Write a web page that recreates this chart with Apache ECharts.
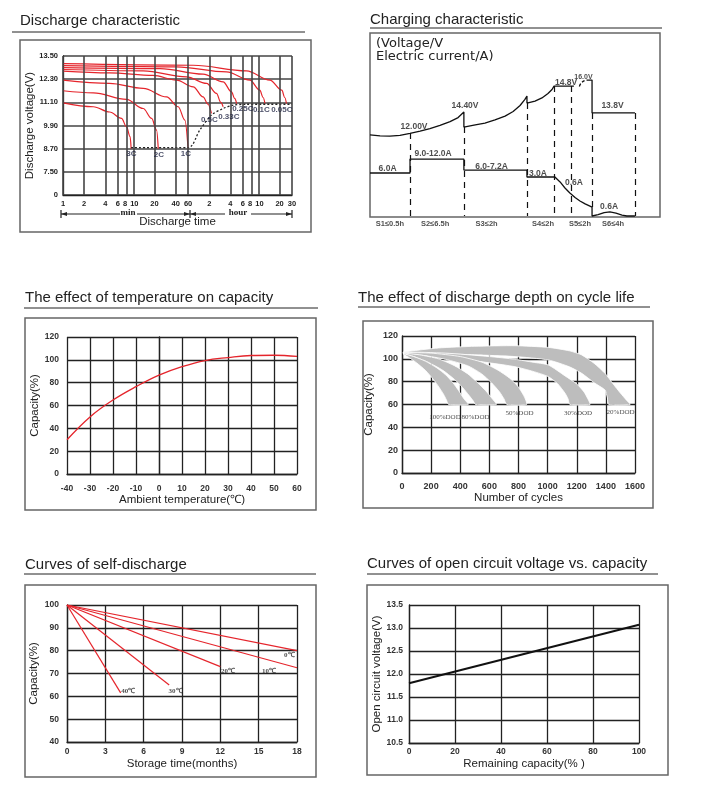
<!DOCTYPE html>
<html><head><meta charset="utf-8">
<script src="https://cdn.jsdelivr.net/npm/echarts@6/dist/echarts.min.js"></script>
<style>html,body{margin:0;padding:0;background:#fff}#c{width:704px;height:798px}</style>
</head><body><div id="c"></div>
<script>
// ================= DATA =================
// --- Discharge characteristic (x: minutes, log; y: volts) ---
const dcYLabels = ['0','7.50','8.70','9.90','11.10','12.30','13.50'];
const dcXTicks  = [1,2,4,6,8,10,20,40,60,120,240,360,480,600,1200,1800];
const dcXLabels = ['1','2','4','6','8','10','20','40','60','2','4','6','8','10','20','30'];
const dcRates   = ['3C','2C','1C','0.5C','0.33C','0.25C','0.1C','0.05C'];
const dc3C   = [[1,11.07],[2.7,10.87],[4.6,10.6],[6.8,10.27],[8,9.83],[9,9.32],[9.3,8.7]];
const dc2C   = [[1,11.7],[2.7,11.59],[8,11.25],[13.8,10.78],[18.2,10.27],[21.4,9.66],[22.6,8.7]];
const dc1C   = [[1,12.25],[4.6,12.08],[13.8,11.82],[29.7,11.38],[43.4,10.87],[54,10.18],[60,8.7]];
const dc05C  = [[1,12.72],[4.6,12.63],[19,12.5],[41,12.25],[71,11.9],[98,11.38],[115,11.0],[129,10.53]];
const dc033C = [[1,12.8],[13.8,12.73],[57,12.42],[110,12.08],[152,11.56],[175,11.1],[189,10.87]];
const dc025C = [[1,12.9],[24,12.85],[98,12.56],[189,12.16],[249,11.64],[275,11.3],[294,11.04]];
const dc01C  = [[1,13.0],[41,12.94],[211,12.68],[453,12.25],[627,11.73],[700,11.35],[742,11.04]];
const dc005C = [[1,13.1],[71,13.02],[406,12.73],[872,12.25],[1290,11.73],[1420,11.35],[1500,11.04]];
const dcEndDots = [[9.3,8.75],[60,8.75],[88,9.66],[129,10.44],[189,10.78],[262,10.95],[400,11.0],[1800,11.0]];
const dcLabelPos = [[9.4,8.42],[23.1,8.37],[55.9,8.42],[120.5,10.18],[228,10.34],[360,10.75],[660,10.7],[1291,10.7]];

// --- Charging characteristic (schematic units 0..100) ---
const chgVoltA = [[0,44.3],[3.5,43.8],[6.9,43.7],[10.4,44.1],[13.9,45.1],[17.4,46.4],[20.8,47.8],[24.3,49.5],[27.8,51.6],[30.6,53.8],[32.6,56.8],
  [32.6,48.6],[36.1,49.7],[39.9,50.8],[43.4,52.5],[46.9,54.6],[49.7,57.1],[52.1,60.4],[53.8,63.7],[54.5,65.6],
  [54.5,61.7],[57.3,62.8],[59.7,64.5],[61.8,66.9],[63.2,69.1],[63.9,71.0],[70.8,71.0]];
const chgVoltArc = [[72.7,70.8],[73.4,72.8],[74.6,74.0],[75.7,74.3]];
const chgVoltB = [[75.7,74.3],[77.1,74.3],[77.1,56.3],[92,56.3]];
const chgCurrent = [[0,23.5],[13.9,23.5],[13.9,31.1],[32.6,31.1],[32.6,25.1],[54.5,25.1],[54.5,21.3],[64.2,21.3],
  [66,18.6],[67.7,15.3],[69.4,12.6],[71.2,10.1],[72.9,8.2],[74.7,6.6],[77.1,4.9],[77.1,0],
  [79.2,0.8],[81.3,1.9],[83.3,2.2],[85.4,1.6],[87.5,0.5],[89.2,0],[92,0]];
const chgStageX   = [13.9,32.6,54.5,63.9,69.8,77.1,92.0];
const chgStageTop = [45.4,48.6,61.7,71.0,71.0,56.3,56.3];
const chgStageBot = [0,0,0,0,0,4.9,0];
const chgTexts = ['12.00V','14.40V','14.8V','13.8V','6.0A','9.0-12.0A','6.0-7.2A','3.0A','0.6A','0.6A'];
const chgTextPos = [[15.3,48.6],[33.0,60.1],[68.1,72.7],[84.2,60.1],[6.1,25.7],[21.9,33.9],[42.2,26.8],[58.3,23.0],[70.8,18.0],[83.0,4.9]];
const chgSmallText = ['16.0V'];
const chgSmallPos = [[74.1,76.0]];
const chgStages = ['S1≤0.5h','S2≤6.5h','S3≤2h','S4≤2h','S5≤2h','S6≤4h'];
const chgStagePos = [[6.9,-4.4],[22.6,-4.4],[40.5,-4.4],[60.1,-4.4],[72.9,-4.4],[84.4,-4.4]];

// --- Temperature vs capacity ---
const tempC   = [-40,-30,-20,-10,0,10,20,30,40,50,60];
const tempCap = [30,50,64.8,76.5,86.6,94,99.4,102,103.8,104,103];

// --- Discharge depth vs cycle life (bands: [cycles, capacity]) ---
const dodNames = ['100%DOD','80%DOD','50%DOD','30%DOD','20%DOD'];
const dod100U = [[10,104.5],[80,102],[160,98],[240,92],[300,86],[350,79],[390,72],[425,65],[455,60]];
const dod100L = [[10,104],[50,101],[100,96.5],[160,90],[215,82],[255,75],[285,69],[305,64],[320,60]];
const dod80U  = [[10,105],[120,103.5],[250,100],[360,94],[450,87],[520,79],[575,72],[620,65],[648,60]];
const dod80L  = [[10,104.5],[80,102],[180,97],[280,90],[360,82],[415,75],[460,68],[490,63],[505,60]];
const dod50U  = [[10,105.5],[200,105],[400,102],[550,97],[660,90],[740,83],[795,76],[835,68],[856,60]];
const dod50L  = [[10,104.5],[150,103],[300,99.5],[450,94],[545,87],[615,79],[670,71],[700,65],[720,60]];
const dod30U  = [[10,106],[300,105],[600,102],[776,99.6],[900,97],[1005,94.6],[1120,85],[1200,78],[1250,71],[1280,64],[1291,60]];
const dod30L  = [[10,105],[300,101.5],[600,96.5],[776,93.1],[900,89],[1005,84.4],[1070,78],[1120,69.8],[1140,65],[1153,60]];
const dod20U  = [[10,106],[250,109.5],[500,111],[776,111.5],[1005,110],[1150,107],[1234,103.4],[1320,96],[1394,87.3],[1450,78],[1500,70],[1540,64],[1566,60]];
const dod20L  = [[10,105],[250,104.5],[500,103.5],[776,102],[1005,99],[1150,93],[1234,87.3],[1320,79],[1394,72.7],[1410,66],[1420,60]];
const dodLabelPos = [[295,49],[505,49],[807,52.6],[1209,52.6],[1501,53.4]];

// --- Self-discharge (months, %) ---
const sdNames = ['0℃','10℃','20℃','30℃','40℃'];
const sd0  = [[0,100],[18,80]];
const sd10 = [[0,100],[18,72.5]];
const sd20 = [[0,100],[12,73]];
const sd30 = [[0,100],[8,65]];
const sd40 = [[0,100],[4.2,61.5]];
const sdLabelPos = [[17.4,78.1],[15.8,71.1],[12.6,71.1],[8.5,62.3],[4.8,62.3]];

// --- Open circuit voltage vs capacity ---
const ocvCap = [0,100];
const ocvVolt = [11.8,13.07];

// ================= BUILD =================
const FF = '"Liberation Sans", Arial, Helvetica, sans-serif';
const RED = '#e5252c';
const GRIDC = '#222';
const vIdx = v => (v - 6.3) / 1.2;

function axisBase(gi, extra) {
  const a = {
    gridIndex: gi, type: 'value',
    axisTick: {show: false},
    axisLine: {show: true, lineStyle: {color: GRIDC, width: 1.3}},
    splitLine: {show: true, lineStyle: {color: GRIDC, width: 1.3}},
    axisLabel: {color: '#333', fontSize: 8.5, fontWeight: 'bold', fontFamily: FF, margin: 8, formatter: v => String(v)},
    nameLocation: 'middle',
    nameTextStyle: {color: '#222', fontSize: 11.5, fontFamily: FF}
  };
  for (const k in extra) {
    if (a[k] && typeof a[k] === 'object' && typeof extra[k] === 'object' && !Array.isArray(extra[k])) a[k] = Object.assign({}, a[k], extra[k]);
    else a[k] = extra[k];
  }
  return a;
}
function labelSeries(xi, yi, pts, texts, style) {
  return {
    type: 'scatter', xAxisIndex: xi, yAxisIndex: yi, symbolSize: 1, silent: true, clip: false, z: 6,
    itemStyle: {color: 'rgba(0,0,0,0)'},
    data: pts.map((p, i) => ({value: p, label: Object.assign({show: true, position: 'inside', formatter: texts[i], align: 'center', verticalAlign: 'middle'}, style)}))
  };
}

const grids = [
  {left: 63, top: 56, width: 229, height: 139},
  {left: 370, top: 33, width: 288, height: 183},
  {left: 67, top: 337, width: 230, height: 137},
  {left: 402, top: 336, width: 233, height: 137},
  {left: 67, top: 605, width: 230, height: 137},
  {left: 409, top: 605, width: 230, height: 138}
];

const xAxes = [
  axisBase(0, {type: 'log', logBase: 10, min: 1, max: 1800,
    splitLine: {show: false},
    axisLabel: {customValues: dcXTicks, fontSize: 7.5, margin: 5, color: '#222',
      rich: {l: {padding: [0, 3, 0, 0]}, r: {padding: [0, 0, 0, 2]}},
      formatter: v => {
        for (let i = 0; i < dcXTicks.length; i++) if (Math.abs(dcXTicks[i] - v) / dcXTicks[i] < 1e-4) {
          const t = dcXLabels[i];
          if (t === '8') return '{l|8}';
          if (t === '10') return '{r|10}';
          return t;
        }
        return '';
      }},
    name: 'Discharge time', nameGap: 21}),
  {gridIndex: 1, type: 'value', min: 0, max: 100, show: false},
  axisBase(2, {min: -40, max: 60, interval: 10, axisLabel: {margin: 10}, name: 'Ambient temperature(℃)', nameGap: 19}),
  axisBase(3, {min: 0, max: 1600, interval: 200, axisLabel: {margin: 9, fontSize: 9}, name: 'Number of cycles', nameGap: 19}),
  axisBase(4, {min: 0, max: 18, interval: 3, axisLabel: {margin: 5}, name: 'Storage time(months)', nameGap: 16}),
  axisBase(5, {min: 0, max: 100, interval: 20, axisLabel: {margin: 4}, name: 'Remaining capacity(% )', nameGap: 15})
];
const yAxes = [
  axisBase(0, {min: 0, max: 6, interval: 1,
    splitLine: {lineStyle: {color: '#444', width: 1.6}},
    axisLabel: {formatter: v => dcYLabels[Math.round(v)], fontSize: 7.5, margin: 5, color: '#222'},
    name: 'Discharge voltage(V)', nameGap: 26}),
  {gridIndex: 1, type: 'value', min: 0, max: 100, show: false},
  axisBase(2, {min: 0, max: 120, interval: 20, axisLabel: {margin: 8}, name: 'Capacity(%)', nameGap: 23}),
  axisBase(3, {min: 0, max: 120, interval: 20, axisLabel: {margin: 4, fontSize: 9}, name: 'Capacity(%)', nameGap: 27}),
  axisBase(4, {min: 40, max: 100, interval: 10, axisLabel: {margin: 8}, name: 'Capacity(%)', nameGap: 27}),
  axisBase(5, {min: 10.5, max: 13.5, interval: 0.5, axisLabel: {margin: 6, formatter: v => v.toFixed(1)}, name: 'Open circuit voltage(V)', nameGap: 25})
];

const series = [];
// discharge vertical grid lines
series.push({type: 'line', xAxisIndex: 0, yAxisIndex: 0, data: [], silent: true,
  markLine: {silent: true, symbol: ['none', 'none'], label: {show: false}, animation: false,
    lineStyle: {color: '#444', width: 1.6, type: 'solid'},
    data: dcXTicks.map(v => ({xAxis: v}))}});
const dcCurves = [dc3C, dc2C, dc1C, dc05C, dc033C, dc025C, dc01C, dc005C];
dcCurves.forEach((c, i) => series.push({
  type: 'line', name: dcRates[i], xAxisIndex: 0, yAxisIndex: 0, showSymbol: false, smooth: 0.35, smoothMonotone: 'x',
  lineStyle: {color: RED, width: 1.2}, z: 3,
  data: c.map(p => [p[0], vIdx(p[1])])
}));
series.push({type: 'line', xAxisIndex: 0, yAxisIndex: 0, showSymbol: false, smooth: 0.3, z: 4,
  lineStyle: {color: '#222', width: 1.3, type: [2, 2]}, data: dcEndDots.map(p => [p[0], vIdx(p[1])])});
series.push(labelSeries(0, 0, dcLabelPos.map(p => [p[0], vIdx(p[1])]), dcRates,
  {fontSize: 8, fontWeight: 'bold', color: '#1c2140', fontFamily: FF}));

// charging
const chgLine = {color: '#111', width: 1.3};
series.push({type: 'line', xAxisIndex: 1, yAxisIndex: 1, showSymbol: false, clip: false, lineStyle: chgLine, data: chgVoltA});
series.push({type: 'line', xAxisIndex: 1, yAxisIndex: 1, showSymbol: false, clip: false, smooth: 0.4, lineStyle: {color: '#111', width: 1.3, type: [3, 2]}, data: chgVoltArc});
series.push({type: 'line', xAxisIndex: 1, yAxisIndex: 1, showSymbol: false, clip: false, lineStyle: chgLine, data: chgVoltB});
series.push({type: 'line', xAxisIndex: 1, yAxisIndex: 1, showSymbol: false, clip: false, lineStyle: chgLine, data: chgCurrent,
  markLine: {silent: true, symbol: ['none', 'none'], label: {show: false}, animation: false,
    lineStyle: {color: '#111', width: 1.2, type: [6, 5]},
    data: chgStageX.map((x, i) => [{coord: [x, chgStageTop[i]]}, {coord: [x, chgStageBot[i]]}])}});
series.push(labelSeries(1, 1, chgTextPos, chgTexts, {fontSize: 8.5, fontWeight: 'bold', color: '#222', fontFamily: FF}));
series.push(labelSeries(1, 1, chgSmallPos, chgSmallText, {fontSize: 7, fontWeight: 'bold', color: '#222', fontFamily: FF}));
series.push(labelSeries(1, 1, chgStagePos, chgStages, {fontSize: 7.5, fontWeight: 'bold', color: '#222', fontFamily: FF}));

// temperature
series.push({type: 'line', xAxisIndex: 2, yAxisIndex: 2, showSymbol: false, smooth: 0.4,
  lineStyle: {color: RED, width: 1.3}, data: tempC.map((t, i) => [t, tempCap[i]])});

// DOD bands
const dodBands = [[dod20U, dod20L], [dod30U, dod30L], [dod50U, dod50L], [dod80U, dod80L], [dod100U, dod100L]];
series.push({type: 'custom', xAxisIndex: 3, yAxisIndex: 3, silent: true, z: 3,
  data: dodBands.map((b, i) => [i]),
  renderItem: (params, api) => {
    const b = dodBands[params.dataIndex];
    const pts = b[0].concat(b[1].slice().reverse()).map(p => api.coord(p));
    return {type: 'polygon', shape: {points: pts, smooth: 0.2}, style: {fill: '#bdbdbd', stroke: '#fff', lineWidth: 0.8}};
  }});
series.push(labelSeries(3, 3, dodLabelPos, dodNames, {fontSize: 7, color: '#222', fontFamily: '"Liberation Serif", serif'}));

// self-discharge
[sd0, sd10, sd20, sd30, sd40].forEach(d => series.push({type: 'line', xAxisIndex: 4, yAxisIndex: 4, showSymbol: false,
  lineStyle: {color: RED, width: 1.2}, data: d}));
series.push(labelSeries(4, 4, sdLabelPos, sdNames, {fontSize: 7, fontWeight: 'bold', color: '#222', fontFamily: '"Liberation Serif", serif'}));

// OCV
series.push({type: 'line', xAxisIndex: 5, yAxisIndex: 5, showSymbol: false,
  lineStyle: {color: '#111', width: 2}, data: ocvCap.map((c, i) => [c, ocvVolt[i]])});

// ---------- decorations ----------
const titleFont = '15px ' + FF;
function title(x, y, t) { return {type: 'text', x: x, y: y, z: 10, style: {text: t, font: titleFont, fill: '#222', verticalAlign: 'middle'}}; }
function hline(x1, x2, y, w, c) { return {type: 'line', z: 10, shape: {x1: x1, y1: y, x2: x2, y2: y}, style: {stroke: c || '#222', lineWidth: w || 1}}; }
function vline(x, y1, y2) { return {type: 'line', z: 10, shape: {x1: x, y1: y1, x2: x, y2: y2}, style: {stroke: '#222', lineWidth: 1.2}}; }
function box(x1, y1, x2, y2) { return {type: 'rect', z: 0, shape: {x: x1, y: y1, width: x2 - x1, height: y2 - y1}, style: {fill: 'none', stroke: '#666', lineWidth: 1.5}}; }
function arrow(x, dir) { return {type: 'polygon', z: 10, shape: {points: [[x, 214], [x - 6 * dir, 212], [x - 6 * dir, 216]]}, style: {fill: '#222'}}; }

const graphics = [
  title(20, 21, 'Discharge characteristic'), hline(12, 305, 32),
  box(20, 40, 311, 232),
  title(370, 19.5, 'Charging characteristic'), hline(370, 662, 28),
  box(370, 33, 660, 217),
  {type: 'text', x: 376, y: 44, z: 10, style: {text: '(Voltage/V', font: '13px "DejaVu Sans", sans-serif', fill: '#222', verticalAlign: 'middle'}},
  {type: 'text', x: 376, y: 57, z: 10, style: {text: 'Electric current/A)', font: '13px "DejaVu Sans", sans-serif', fill: '#222', verticalAlign: 'middle'}},
  title(25, 298, 'The effect of temperature on capacity'), hline(24, 318, 308),
  box(25, 318, 316, 510),
  title(358, 298, 'The effect of discharge depth on cycle life'), hline(358, 650, 307),
  box(363, 321, 653, 508),
  title(25, 565, 'Curves of self-discharge'), hline(24, 316, 574),
  box(25, 585, 316, 777),
  title(367, 564, 'Curves of open circuit voltage vs. capacity'), hline(367, 658, 574),
  box(367, 585, 668, 775),
  // min / hour span markers
  vline(61, 210, 218), vline(190, 210, 218), vline(292, 210, 218),
  hline(61, 120, 214, 1.2), hline(137, 190, 214, 1.2), hline(190, 225, 214, 1.2), hline(251, 292, 214, 1.2),
  arrow(61, -1), arrow(190, 1), arrow(190, -1), arrow(292, 1),
  {type: 'text', x: 128, y: 213, z: 10, style: {text: 'min', font: 'bold 9px "Liberation Serif", serif', fill: '#222', align: 'center', verticalAlign: 'middle'}},
  {type: 'text', x: 238, y: 213, z: 10, style: {text: 'hour', font: 'bold 9px "Liberation Serif", serif', fill: '#222', align: 'center', verticalAlign: 'middle'}}
];

const chart = echarts.init(document.getElementById('c'), null, {renderer: 'canvas', width: 704, height: 798});
chart.setOption({
  animation: false,
  backgroundColor: '#fff',
  textStyle: {fontFamily: FF},
  grid: grids,
  xAxis: xAxes,
  yAxis: yAxes,
  series: series,
  graphic: graphics
});
</script></body></html>
